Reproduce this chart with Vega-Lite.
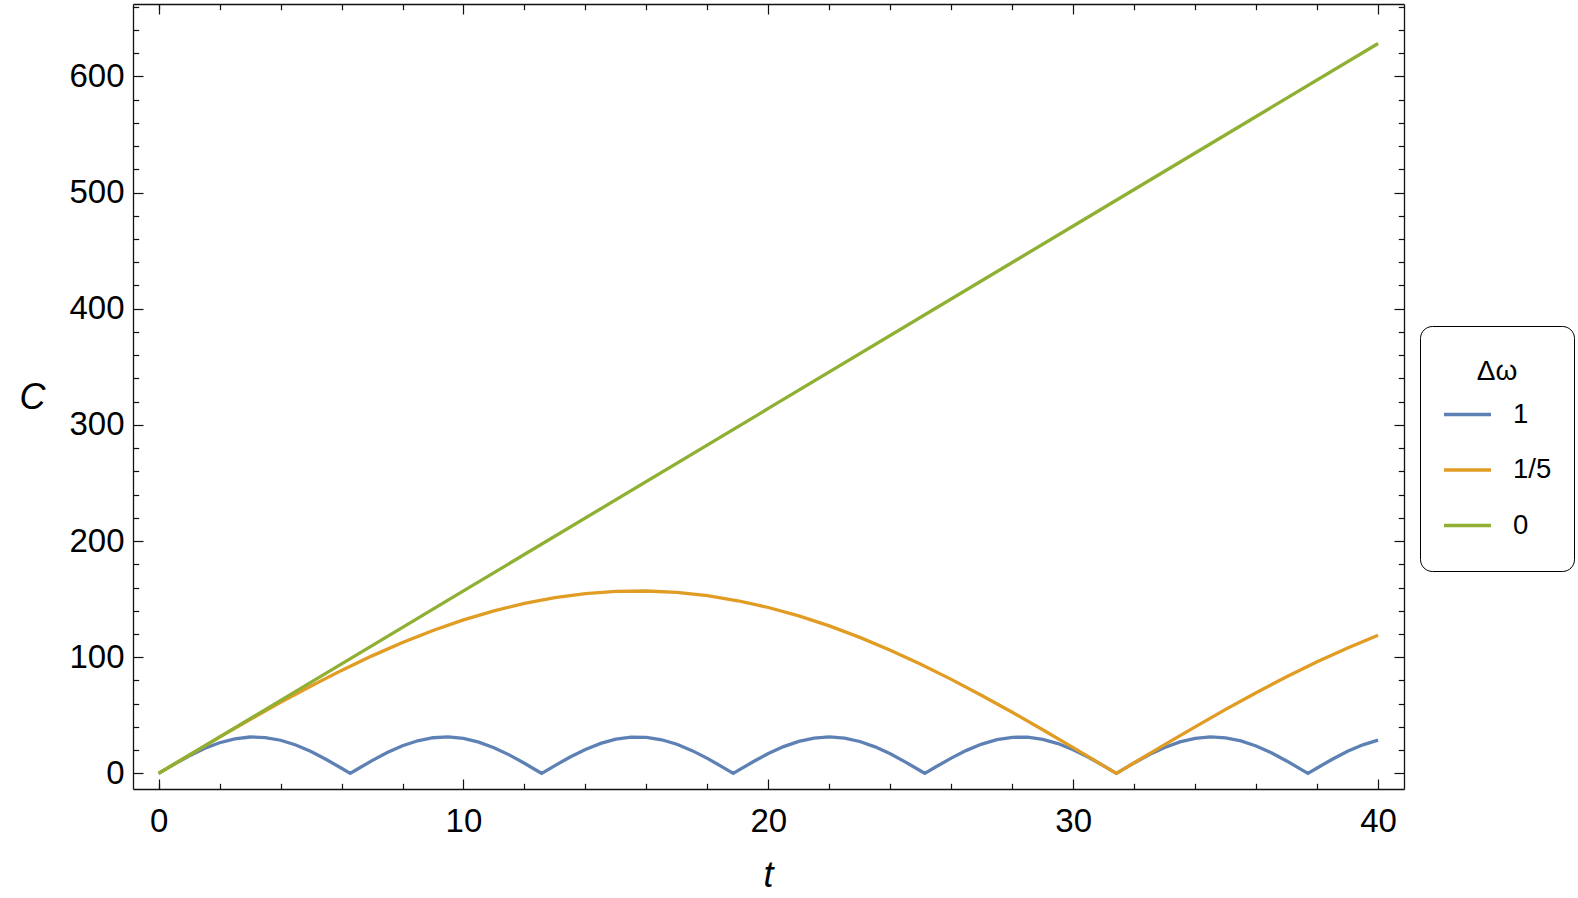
{
  "$schema": "https://vega.github.io/schema/vega-lite/v6.json",
  "autosize": {"type": "none"},
  "width": 1271,
  "height": 785,
  "padding": {"left": 133, "top": 4, "right": 174, "bottom": 109},
  "background": "white",
  "config": {
    "view": {"stroke": null},
    "axis": {"grid": false, "labelFont": "Liberation Sans", "titleFont": "Liberation Sans", "tickColor": "#111", "domainColor": "#111", "tickWidth": 1.2, "domainWidth": 1.3, "labelColor": "black", "titleColor": "black"}
  },
  "data": {"values": [
    {"t":0,"C":0,"dw":"1"},{"t":0.5,"C":7.77,"dw":"1"},{"t":1,"C":15.06,"dw":"1"},{"t":1.5,"C":21.41,"dw":"1"},{"t":2,"C":26.44,"dw":"1"},{"t":2.5,"C":29.81,"dw":"1"},{"t":3,"C":31.34,"dw":"1"},{"t":3.5,"C":30.91,"dw":"1"},{"t":4,"C":28.57,"dw":"1"},{"t":4.5,"C":24.44,"dw":"1"},{"t":5,"C":18.8,"dw":"1"},{"t":5.5,"C":11.99,"dw":"1"},{"t":6,"C":4.43,"dw":"1"},{"t":6.2832,"C":0,"dw":"1"},{"t":6.5,"C":3.4,"dw":"1"},{"t":7,"C":11.02,"dw":"1"},{"t":7.5,"C":17.96,"dw":"1"},{"t":8,"C":23.78,"dw":"1"},{"t":8.5,"C":28.12,"dw":"1"},{"t":9,"C":30.71,"dw":"1"},{"t":9.5,"C":31.39,"dw":"1"},{"t":10,"C":30.12,"dw":"1"},{"t":10.5,"C":26.98,"dw":"1"},{"t":11,"C":22.16,"dw":"1"},{"t":11.5,"C":15.97,"dw":"1"},{"t":12,"C":8.78,"dw":"1"},{"t":12.5,"C":1.04,"dw":"1"},{"t":12.5664,"C":0,"dw":"1"},{"t":13,"C":6.76,"dw":"1"},{"t":13.5,"C":14.14,"dw":"1"},{"t":14,"C":20.64,"dw":"1"},{"t":14.5,"C":25.86,"dw":"1"},{"t":15,"C":29.47,"dw":"1"},{"t":15.5,"C":31.25,"dw":"1"},{"t":16,"C":31.08,"dw":"1"},{"t":16.5,"C":28.99,"dw":"1"},{"t":17,"C":25.09,"dw":"1"},{"t":17.5,"C":19.63,"dw":"1"},{"t":18,"C":12.95,"dw":"1"},{"t":18.5,"C":5.48,"dw":"1"},{"t":18.8496,"C":0,"dw":"1"},{"t":19,"C":2.36,"dw":"1"},{"t":19.5,"C":10.04,"dw":"1"},{"t":20,"C":17.09,"dw":"1"},{"t":20.5,"C":23.08,"dw":"1"},{"t":21,"C":27.64,"dw":"1"},{"t":21.5,"C":30.47,"dw":"1"},{"t":22,"C":31.42,"dw":"1"},{"t":22.5,"C":30.41,"dw":"1"},{"t":23,"C":27.5,"dw":"1"},{"t":23.5,"C":22.9,"dw":"1"},{"t":24,"C":16.86,"dw":"1"},{"t":24.5,"C":9.77,"dw":"1"},{"t":25,"C":2.08,"dw":"1"},{"t":25.1327,"C":0,"dw":"1"},{"t":25.5,"C":5.74,"dw":"1"},{"t":26,"C":13.2,"dw":"1"},{"t":26.5,"C":19.85,"dw":"1"},{"t":27,"C":25.25,"dw":"1"},{"t":27.5,"C":29.09,"dw":"1"},{"t":28,"C":31.12,"dw":"1"},{"t":28.5,"C":31.21,"dw":"1"},{"t":29,"C":29.37,"dw":"1"},{"t":29.5,"C":25.7,"dw":"1"},{"t":30,"C":20.43,"dw":"1"},{"t":30.5,"C":13.9,"dw":"1"},{"t":31,"C":6.48,"dw":"1"},{"t":31.4159,"C":0,"dw":"1"},{"t":31.5,"C":1.32,"dw":"1"},{"t":32,"C":9.04,"dw":"1"},{"t":32.5,"C":16.2,"dw":"1"},{"t":33,"C":22.36,"dw":"1"},{"t":33.5,"C":27.14,"dw":"1"},{"t":34,"C":30.2,"dw":"1"},{"t":34.5,"C":31.4,"dw":"1"},{"t":35,"C":30.65,"dw":"1"},{"t":35.5,"C":28.0,"dw":"1"},{"t":36,"C":23.59,"dw":"1"},{"t":36.5,"C":17.74,"dw":"1"},{"t":37,"C":10.76,"dw":"1"},{"t":37.5,"C":3.12,"dw":"1"},{"t":37.6991,"C":0,"dw":"1"},{"t":38,"C":4.71,"dw":"1"},{"t":38.5,"C":12.25,"dw":"1"},{"t":39,"C":19.02,"dw":"1"},{"t":39.5,"C":24.62,"dw":"1"},{"t":40,"C":28.68,"dw":"1"},
    {"t":0,"C":0,"dw":"1/5"},{"t":1,"C":15.68,"dw":"1/5"},{"t":2,"C":31.21,"dw":"1/5"},{"t":3,"C":46.42,"dw":"1/5"},{"t":4,"C":61.17,"dw":"1/5"},{"t":5,"C":75.31,"dw":"1/5"},{"t":6,"C":88.69,"dw":"1/5"},{"t":7,"C":101.19,"dw":"1/5"},{"t":8,"C":112.69,"dw":"1/5"},{"t":9,"C":123.04,"dw":"1/5"},{"t":10,"C":132.18,"dw":"1/5"},{"t":11,"C":139.99,"dw":"1/5"},{"t":12,"C":146.4,"dw":"1/5"},{"t":13,"C":151.36,"dw":"1/5"},{"t":14,"C":154.79,"dw":"1/5"},{"t":15,"C":156.69,"dw":"1/5"},{"t":16,"C":157.02,"dw":"1/5"},{"t":17,"C":155.78,"dw":"1/5"},{"t":18,"C":152.96,"dw":"1/5"},{"t":19,"C":148.64,"dw":"1/5"},{"t":20,"C":142.83,"dw":"1/5"},{"t":21,"C":135.59,"dw":"1/5"},{"t":22,"C":127.0,"dw":"1/5"},{"t":23,"C":117.13,"dw":"1/5"},{"t":24,"C":106.11,"dw":"1/5"},{"t":25,"C":94.01,"dw":"1/5"},{"t":26,"C":80.97,"dw":"1/5"},{"t":27,"C":67.14,"dw":"1/5"},{"t":28,"C":52.62,"dw":"1/5"},{"t":29,"C":37.57,"dw":"1/5"},{"t":30,"C":22.16,"dw":"1/5"},{"t":31,"C":6.53,"dw":"1/5"},{"t":31.4159,"C":0,"dw":"1/5"},{"t":32,"C":9.17,"dw":"1/5"},{"t":33,"C":24.77,"dw":"1/5"},{"t":34,"C":40.13,"dw":"1/5"},{"t":35,"C":55.1,"dw":"1/5"},{"t":36,"C":69.51,"dw":"1/5"},{"t":37,"C":83.22,"dw":"1/5"},{"t":38,"C":96.12,"dw":"1/5"},{"t":39,"C":108.04,"dw":"1/5"},{"t":40,"C":118.88,"dw":"1/5"},
    {"t":0,"C":0,"dw":"0"},{"t":10,"C":157.08,"dw":"0"},{"t":20,"C":314.16,"dw":"0"},{"t":30,"C":471.24,"dw":"0"},{"t":40,"C":628.32,"dw":"0"}
  ]},
  "resolve": {"axis": {"x": "independent", "y": "independent"}},
  "layer": [
    {
      "mark": {"type": "line", "strokeWidth": 3.3, "interpolate": "linear"},
      "encoding": {
        "x": {"field": "t", "type": "quantitative", "scale": {"domain": [-0.84, 40.85], "nice": false, "zero": false},
          "axis": {"orient": "bottom", "values": [0, 10, 20, 30, 40], "ticks": false, "tickSize": 0, "domain": false, "labelFontSize": 33, "labelPadding": 16, "labelBaseline": "top", "title": "t", "titleFontSize": 36, "titleFontStyle": "italic", "titleFontWeight": "normal", "titleX": 635, "titleY": 97, "titleBaseline": "alphabetic", "titleAlign": "center"}},
        "y": {"field": "C", "type": "quantitative", "scale": {"domain": [-13.4, 662.3], "nice": false, "zero": false},
          "axis": {"orient": "left", "values": [0, 100, 200, 300, 400, 500, 600], "ticks": false, "tickSize": 0, "domain": false, "labelFontSize": 33, "labelPadding": 9, "title": "C", "titleFontSize": 36, "titleFontStyle": "italic", "titleFontWeight": "normal", "titleAngle": 0, "titleX": -101, "titleY": 393, "titleBaseline": "middle", "titleAlign": "center"}},
        "color": {"field": "dw", "type": "nominal", "sort": ["1", "1/5", "0"],
          "scale": {"domain": ["1", "1/5", "0"], "range": ["#5E81B5", "#E19C24", "#8FB032"]},
          "legend": {"orient": "none", "legendX": 1287, "legendY": 322, "title": ["", "Δω"], "titleLineHeight": 10, "titleFont": "Liberation Sans", "titleFontSize": 28, "titleFontWeight": "normal", "titleAnchor": "middle", "titlePadding": 5, "labelFont": "Liberation Sans", "labelFontSize": 27.5, "labelColor": "black", "titleColor": "black", "symbolType": "stroke", "symbolSize": 2209, "symbolStrokeWidth": 3.6, "strokeColor": "black", "fillColor": "white", "cornerRadius": 12, "padding": 22, "rowPadding": 8.5, "clipHeight": 47, "labelOffset": 20}}
      }
    },
    {
      "mark": {"type": "point", "opacity": 0},
      "encoding": {
        "x": {"field": "t", "type": "quantitative", "axis": {"orient": "bottom", "values": [0, 10, 20, 30, 40], "tickSize": -10, "labels": false, "domain": true, "title": null}},
        "y": {"field": "C", "type": "quantitative", "axis": {"orient": "left", "values": [0, 100, 200, 300, 400, 500, 600], "tickSize": -10, "labels": false, "domain": true, "title": null}}
      }
    },
    {
      "mark": {"type": "point", "opacity": 0},
      "encoding": {
        "x": {"field": "t", "type": "quantitative", "axis": {"orient": "bottom", "values": [0, 2, 4, 6, 8, 12, 14, 16, 18, 22, 24, 26, 28, 32, 34, 36, 38], "tickSize": -5.7, "labels": false, "domain": false, "title": null}},
        "y": {"field": "C", "type": "quantitative", "axis": {"orient": "left", "values": [20, 40, 60, 80, 120, 140, 160, 180, 220, 240, 260, 280, 320, 340, 360, 380, 420, 440, 460, 480, 520, 540, 560, 580, 620, 640, 660], "tickSize": -5.7, "labels": false, "domain": false, "title": null}}
      }
    },
    {
      "mark": {"type": "point", "opacity": 0},
      "encoding": {
        "x": {"field": "t", "type": "quantitative", "axis": {"orient": "top", "values": [0, 10, 20, 30, 40], "tickSize": -10, "labels": false, "domain": true, "title": null}},
        "y": {"field": "C", "type": "quantitative", "axis": {"orient": "right", "values": [0, 100, 200, 300, 400, 500, 600], "tickSize": -10, "labels": false, "domain": true, "title": null}}
      }
    },
    {
      "mark": {"type": "point", "opacity": 0},
      "encoding": {
        "x": {"field": "t", "type": "quantitative", "axis": {"orient": "top", "values": [0, 2, 4, 6, 8, 12, 14, 16, 18, 22, 24, 26, 28, 32, 34, 36, 38], "tickSize": -5.7, "labels": false, "domain": false, "title": null}},
        "y": {"field": "C", "type": "quantitative", "axis": {"orient": "right", "values": [20, 40, 60, 80, 120, 140, 160, 180, 220, 240, 260, 280, 320, 340, 360, 380, 420, 440, 460, 480, 520, 540, 560, 580, 620, 640, 660], "tickSize": -5.7, "labels": false, "domain": false, "title": null}}
      }
    }
  ]
}
